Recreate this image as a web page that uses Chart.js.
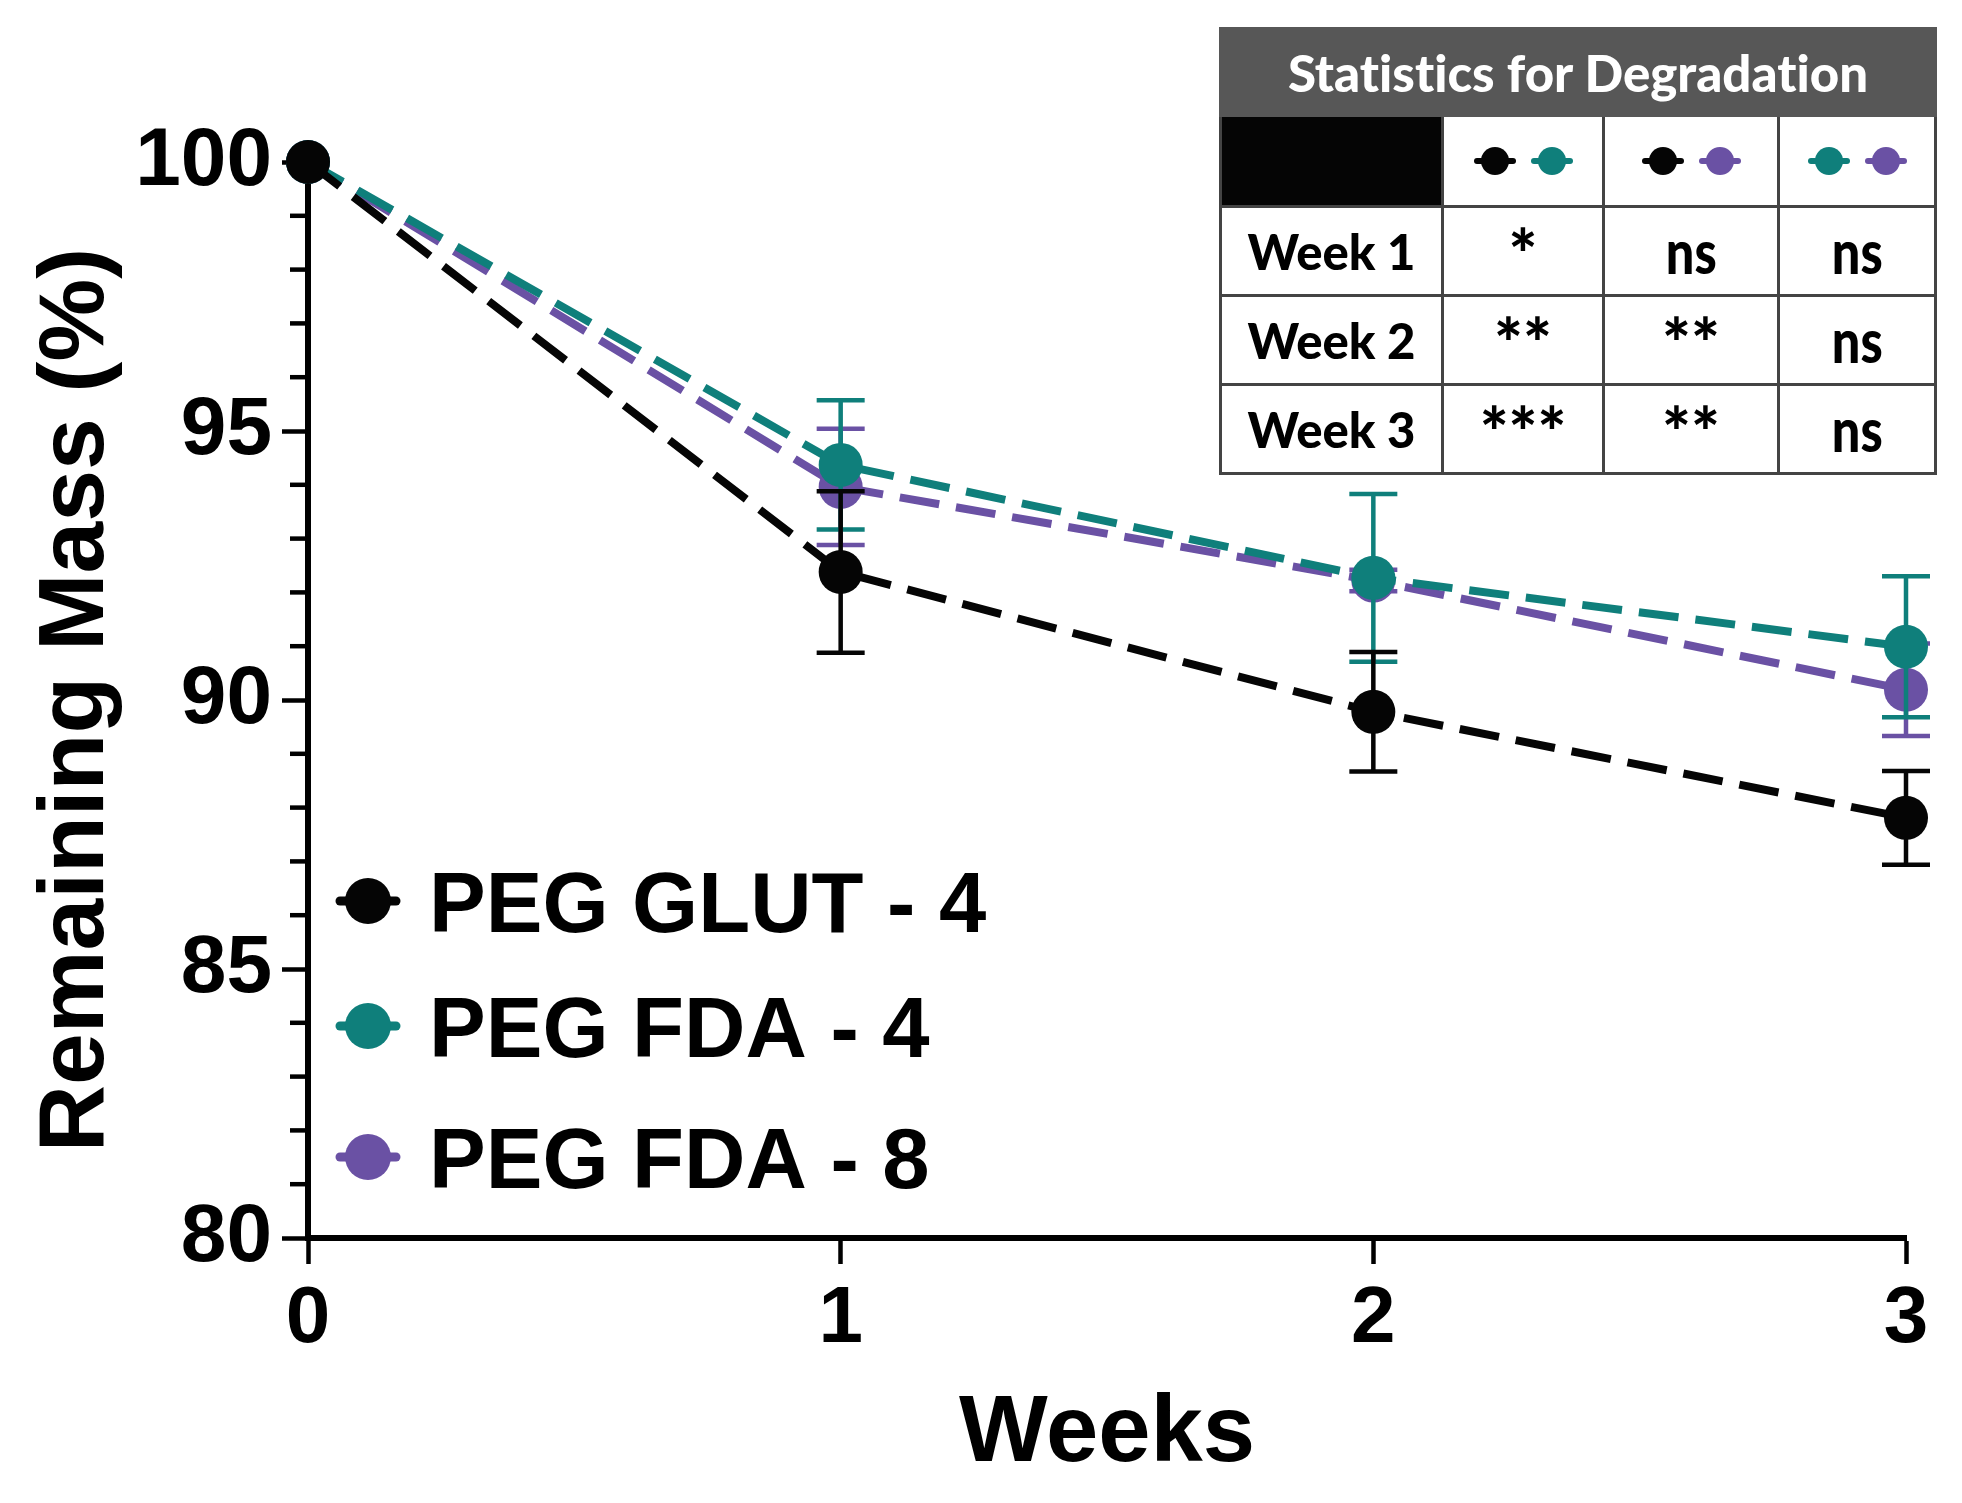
<!DOCTYPE html>
<html>
<head>
<meta charset="utf-8">
<script src="https://cdn.jsdelivr.net/npm/chart.js@4.4.1/dist/chart.umd.min.js"></script>
<style>
html,body{margin:0;padding:0;background:#fff;}
#wrap{position:relative;width:1962px;height:1503px;overflow:hidden;}
#c{position:absolute;left:0;top:0;}
table.stats{position:absolute;left:1219px;top:27px;border-collapse:collapse;table-layout:fixed;
  font-family:Lato,"Open Sans",sans-serif;font-weight:900;color:#000;font-variant-ligatures:none;}
table.stats td{border:3.5px solid #444;padding:0;text-align:center;vertical-align:middle;line-height:1;}
table.stats td.head{background:#575757;color:#fff;font-size:51px;height:84px;border-color:#575757;}
table.stats td.black{background:#050505;}
table.stats td.wk{font-size:49px;}
table.stats td.sig{font-size:60px;}
table.stats td.sig span{display:inline-block;transform:scaleX(0.84);}
table.stats td.sig.ast{font-size:68px;}
table.stats td.sig.ast span{transform:translateY(2px);}
span.d{display:inline-block;position:relative;width:28px;height:28px;border-radius:50%;margin:0 14.5px;vertical-align:middle;}
span.d::before{content:'';position:absolute;left:-7px;right:-7px;top:11px;height:6px;background:inherit;border-radius:3px;}
</style>
</head>
<body>
<div id="wrap">
<canvas id="c" width="1962" height="1503"></canvas>
<table class="stats" id="stats"></table>
</div>
<script>
// ---- data ----
const weeks = [0, 1, 2, 3];
const seriesNames = ['PEG GLUT - 4', 'PEG FDA - 4', 'PEG FDA - 8'];
const glut4Mean = [100, 92.38, 89.78, 87.81];
const glut4Err  = [0, 1.50, 1.11, 0.87];
const fda4Mean  = [100, 94.37, 92.27, 90.99];
const fda4Err   = [0, 1.20, 1.56, 1.31];
const fda8Mean  = [100, 93.96, 92.22, 90.19];
const fda8Err   = [0, 1.08, 0.20, 0.86];
const yMin = 80, yMax = 100, yMajorStep = 5, yMinorStep = 1;
const xLabel = 'Weeks';
const yLabel = 'Remaining Mass (%)';
const tableTitle = 'Statistics for Degradation';
const statRows = ['Week 1', 'Week 2', 'Week 3'];
const statPairs = [[0, 1], [0, 2], [1, 2]];
const statValues = [
  ['*', 'ns', 'ns'],
  ['**', '**', 'ns'],
  ['***', '**', 'ns']
];

// ---- styles ----
const colors = ['#050505', '#0f7f7b', '#6a51a4'];
const means = [glut4Mean, fda4Mean, fda8Mean];
const errs = [glut4Err, fda4Err, fda8Err];
const FONT = '"Liberation Sans", Arial, sans-serif';

// ---- table ----
(function buildTable(){
  const t = document.getElementById('stats');
  const colW = [222, 161, 175, 157];
  const cg = document.createElement('colgroup');
  colW.forEach(w => { const c = document.createElement('col'); c.style.width = w + 'px'; cg.appendChild(c); });
  t.appendChild(cg);
  let tr = document.createElement('tr');
  let td = document.createElement('td'); td.colSpan = 4; td.className = 'head'; td.textContent = tableTitle;
  tr.appendChild(td); t.appendChild(tr);
  tr = document.createElement('tr'); tr.style.height = '91px';
  td = document.createElement('td'); td.className = 'black'; tr.appendChild(td);
  statPairs.forEach(p => {
    const c = document.createElement('td');
    p.forEach(i => { const s = document.createElement('span'); s.className = 'd'; s.style.background = colors[i]; c.appendChild(s); });
    tr.appendChild(c);
  });
  t.appendChild(tr);
  statRows.forEach((r, ri) => {
    const row = document.createElement('tr'); row.style.height = '89px';
    const h = document.createElement('td'); h.className = 'wk'; h.textContent = r; row.appendChild(h);
    statValues[ri].forEach(v => {
      const c = document.createElement('td'); c.className = 'sig' + (v.indexOf('*') >= 0 ? ' ast' : '');
      const s = document.createElement('span'); s.textContent = v; c.appendChild(s);
      row.appendChild(c);
    });
    t.appendChild(row);
  });
})();

// ---- plugins ----
const errorBarPlugin = {
  id: 'errorBars',
  beforeDatasetDraw(chart, args) {
    const i = args.index;
    const ds = chart.data.datasets[i];
    const e = errs[i];
    const xs = chart.scales.x, ys = chart.scales.y;
    const ctx = chart.ctx;
    ctx.save();
    ctx.strokeStyle = ds.borderColor;
    ctx.lineWidth = 4.5;
    ctx.setLineDash([]);
    ds.data.forEach((pt, k) => {
      if (!e[k]) return;
      const px = xs.getPixelForValue(pt.x);
      const y1 = ys.getPixelForValue(pt.y + e[k]);
      const y2 = ys.getPixelForValue(pt.y - e[k]);
      ctx.beginPath();
      ctx.moveTo(px, y1); ctx.lineTo(px, y2);
      ctx.moveTo(px - 24, y1); ctx.lineTo(px + 24, y1);
      ctx.moveTo(px - 24, y2); ctx.lineTo(px + 24, y2);
      ctx.stroke();
    });
    ctx.restore();
  }
};

const decorPlugin = {
  id: 'decor',
  afterDraw(chart) {
    const ctx = chart.ctx;
    const ys = chart.scales.y;
    const left = chart.chartArea.left;
    ctx.save();
    // minor ticks
    ctx.strokeStyle = '#000';
    ctx.lineWidth = 4.5;
    for (let v = yMin; v <= yMax; v += yMinorStep) {
      if (v % yMajorStep === 0) continue;
      const py = ys.getPixelForValue(v);
      ctx.beginPath(); ctx.moveTo(left - 18, py); ctx.lineTo(left, py); ctx.stroke();
    }
    // legend
    const legendX = 368, legendYs = [901, 1026, 1157];
    chart.data.datasets.forEach((ds, i) => {
      const cy = legendYs[i];
      ctx.strokeStyle = ds.borderColor;
      ctx.fillStyle = ds.borderColor;
      ctx.lineWidth = 9;
      ctx.lineCap = 'round';
      ctx.beginPath(); ctx.moveTo(legendX - 28, cy); ctx.lineTo(legendX + 28, cy); ctx.stroke();
      ctx.beginPath(); ctx.arc(legendX, cy, 23, 0, Math.PI * 2); ctx.fill();
      ctx.fillStyle = '#000';
      ctx.font = 'bold 85px ' + FONT;
      ctx.textAlign = 'left';
      ctx.textBaseline = 'alphabetic';
      ctx.fillText(ds.label, 429, cy + 31);
    });
    ctx.restore();
  }
};

// ---- chart ----
const datasets = seriesNames.map((name, i) => ({
  label: name,
  data: weeks.map((w, k) => ({ x: w, y: means[i][k] })),
  borderColor: colors[i],
  backgroundColor: colors[i],
  borderWidth: 8,
  borderDash: [40, 17],
  pointRadius: 22,
  pointHoverRadius: 22,
  pointBorderWidth: 0,
  pointBackgroundColor: colors[i],
  tension: 0,
  clip: false
}));

new Chart(document.getElementById('c'), {
  type: 'line',
  data: { datasets },
  plugins: [errorBarPlugin, decorPlugin],
  options: {
    responsive: false,
    devicePixelRatio: 1,
    animation: false,
    events: [],
    layout: { padding: { top: 162, right: 56, left: 0, bottom: 0 } },
    plugins: { legend: { display: false }, tooltip: { enabled: false } },
    scales: {
      x: {
        type: 'linear', min: weeks[0], max: weeks[weeks.length - 1],
        afterFit: s => { s.height = 265; },
        border: { display: true, color: '#000', width: 6 },
        grid: { display: true, drawOnChartArea: false, drawTicks: true, tickLength: 26, tickWidth: 4.5, tickColor: '#000' },
        ticks: { stepSize: 1, color: '#000', padding: 8, font: { family: FONT, weight: 'bold', size: 80 } },
        title: { display: true, text: xLabel, color: '#000', font: { family: FONT, weight: 'bold', size: 94 }, padding: { top: 0, bottom: 12 } }
      },
      y: {
        type: 'linear', min: yMin, max: yMax,
        afterFit: s => { s.width = 308; },
        border: { display: true, color: '#000', width: 6 },
        grid: { display: true, drawOnChartArea: false, drawTicks: true, tickLength: 26, tickWidth: 4.5,
                tickColor: c => (c.tick && c.tick.value % yMajorStep === 0) ? '#000' : 'rgba(0,0,0,0)' },
        ticks: { stepSize: yMinorStep, autoSkip: false, color: '#000', padding: 10,
                 font: { family: FONT, weight: 'bold', size: 82 },
                 callback: v => (v % yMajorStep === 0 ? String(v) : '') },
        title: { display: true, text: yLabel, color: '#000', font: { family: FONT, weight: 'bold', size: 93 }, padding: { top: 22, bottom: 0 } }
      }
    }
  }
});
</script>
</body>
</html>
